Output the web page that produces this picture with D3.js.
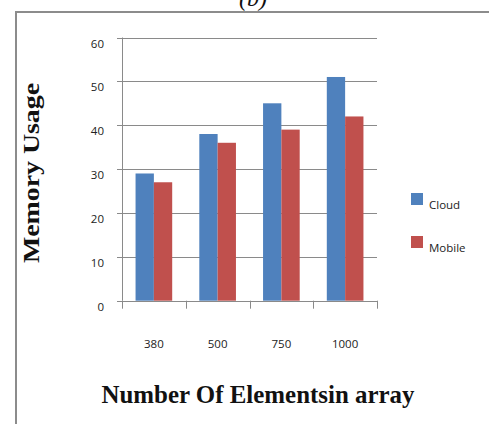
<!DOCTYPE html>
<html>
<head>
<meta charset="utf-8">
<script src="https://cdn.jsdelivr.net/npm/d3@7"></script>
<style>
  html, body { margin: 0; padding: 0; background: #fff; }
  svg { display: block; }
</style>
</head>
<body>
<script>
// Memory usage by number of elements in the array, cloud vs mobile
const categories = ["380", "500", "750", "1000"];
const seriesNames = ["Cloud", "Mobile"];
const cloudValues = [29, 38, 45, 51];
const mobileValues = [27, 36, 39, 42];
const yTicks = [0, 10, 20, 30, 40, 50, 60];
const colors = { Cloud: "#4F81BD", Mobile: "#C0504D" };

const W = 489, H = 424;
const svg = d3.select("body").append("svg").attr("width", W).attr("height", H);

// outer frame
svg.append("rect")
  .attr("x", 16).attr("y", 12).attr("width", 520).attr("height", 520)
  .attr("fill", "none").attr("stroke", "#8c8c8c").attr("stroke-width", 2);

// panel caption
svg.append("text")
  .attr("x", 253).attr("y", 6)
  .attr("text-anchor", "middle")
  .style("font-family", "'Liberation Serif', serif")
  .style("font-style", "italic")
  .style("font-size", "24px")
  .attr("fill", "#111")
  .text("(b)");

const plot = { left: 122, right: 377, top: 37.5, bottom: 300.7 };

const y = d3.scaleLinear().domain([0, 60]).range([plot.bottom, plot.top]);
const x0 = d3.scaleBand().domain(categories).range([plot.left, plot.right]).padding(0);
const x1 = d3.scaleBand().domain(seriesNames).range([0, x0.bandwidth()])
  .paddingInner(0).paddingOuter(0.74);

const g = svg.append("g");

// horizontal gridlines with short left ticks
g.selectAll("line.grid").data(yTicks).join("line")
  .attr("class", "grid")
  .attr("x1", plot.left - 5).attr("x2", plot.right)
  .attr("y1", d => Math.round(y(d)) + 0.5).attr("y2", d => Math.round(y(d)) + 0.5)
  .attr("stroke", "#8a8a8a").attr("stroke-width", 1);

// y tick labels
g.selectAll("text.ytick").data(yTicks).join("text")
  .attr("class", "ytick")
  .attr("x", 104).attr("y", d => y(d) + 10)
  .attr("text-anchor", "end")
  .style("font-family", "'Open Sans', sans-serif")
  .style("font-size", "11.5px")
  .attr("fill", "#222")
  .text(d => d);

// y axis line
g.append("line")
  .attr("x1", plot.left + 0.5).attr("x2", plot.left + 0.5)
  .attr("y1", plot.top).attr("y2", plot.bottom)
  .attr("stroke", "#8a8a8a");

// category tick marks at band boundaries
const boundaries = categories.map(c => x0(c)).concat([plot.right]);
g.selectAll("line.xtick").data(boundaries).join("line")
  .attr("class", "xtick")
  .attr("x1", d => Math.round(d) + 0.5).attr("x2", d => Math.round(d) + 0.5)
  .attr("y1", plot.bottom).attr("y2", plot.bottom + 8)
  .attr("stroke", "#8a8a8a");

// bars
const rows = categories.map((c, i) => ({ cat: c, Cloud: cloudValues[i], Mobile: mobileValues[i] }));
const groups = g.selectAll("g.cat").data(rows).join("g")
  .attr("class", "cat")
  .attr("transform", d => `translate(${x0(d.cat)},0)`);
groups.selectAll("rect").data(d => seriesNames.map(s => ({ s, v: d[s] }))).join("rect")
  .attr("x", d => x1(d.s))
  .attr("y", d => y(d.v))
  .attr("width", x1.bandwidth())
  .attr("height", d => plot.bottom - y(d.v))
  .attr("fill", d => colors[d.s]);

// x tick labels
g.selectAll("text.xlab").data(categories).join("text")
  .attr("class", "xlab")
  .attr("x", d => x0(d) + x0.bandwidth() / 2)
  .attr("y", 348)
  .attr("text-anchor", "middle")
  .style("font-family", "'Open Sans', sans-serif")
  .style("font-size", "11.5px")
  .attr("fill", "#222")
  .text(d => d);

// axis titles
svg.append("text")
  .attr("x", 258).attr("y", 403)
  .attr("text-anchor", "middle")
  .attr("textLength", 313).attr("lengthAdjust", "spacingAndGlyphs")
  .style("font-family", "'Liberation Serif', serif")
  .style("font-weight", "bold")
  .style("font-size", "25px")
  .attr("fill", "#111")
  .text("Number Of Elementsin array");

svg.append("text")
  .attr("transform", "translate(39,173) rotate(-90)")
  .attr("text-anchor", "middle")
  .attr("textLength", 180).attr("lengthAdjust", "spacingAndGlyphs")
  .style("font-family", "'Liberation Serif', serif")
  .style("font-weight", "bold")
  .style("font-size", "24px")
  .attr("fill", "#111")
  .text("Memory Usage");

// legend
const legend = svg.append("g");
const legendRows = legend.selectAll("g").data(seriesNames).join("g")
  .attr("transform", (d, i) => `translate(411,${193 + i * 43})`);
legendRows.append("rect")
  .attr("width", 12).attr("height", 12)
  .attr("fill", d => colors[d]);
legendRows.append("text")
  .attr("x", 18).attr("y", 16)
  .style("font-family", "'Open Sans', sans-serif")
  .style("font-size", "11.5px")
  .attr("fill", "#222")
  .text(d => d);
</script>
</body>
</html>
